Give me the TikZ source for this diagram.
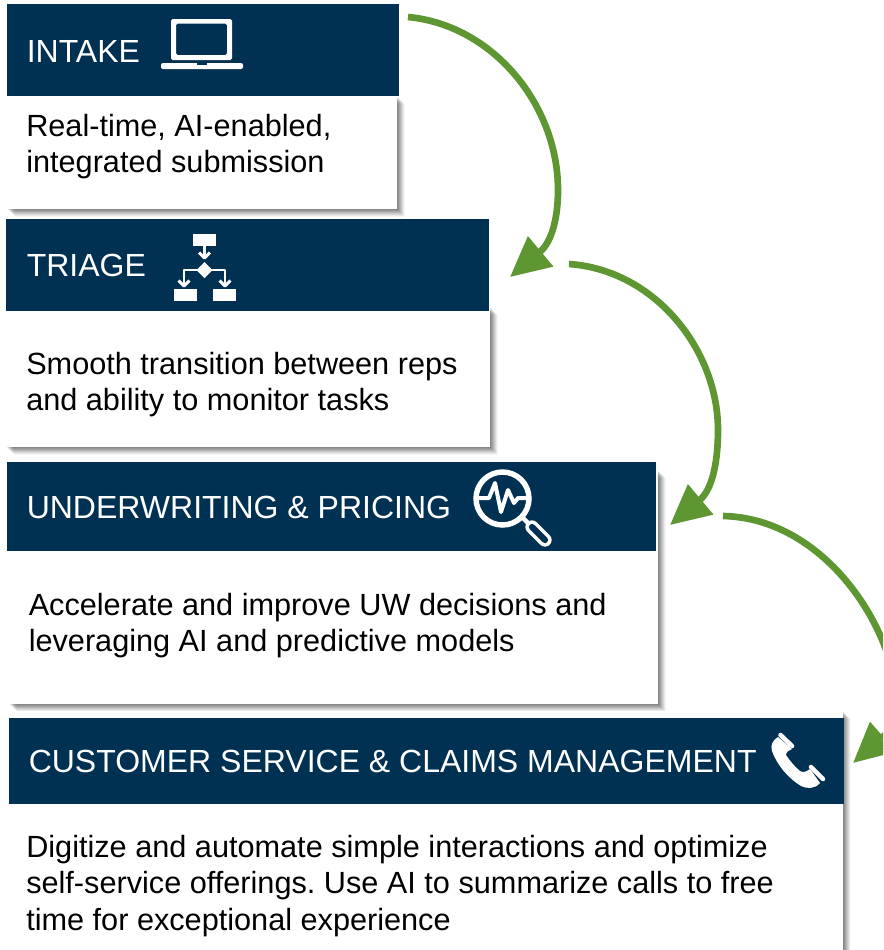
\documentclass[tikz,border=0pt]{standalone}
\usepackage{fontspec}
\setmainfont{Liberation Sans}
\frenchspacing
\usetikzlibrary{arrows.meta}
\definecolor{navy}{RGB}{0,49,83}
\definecolor{leaf}{RGB}{94,151,50}
\tikzset{
  x=0.75pt,y=-0.75pt,
  softshadow/.style={
    preaction={fill=black,fill opacity=.035,transform canvas={shift={(5.6pt,-5.6pt)}}},
    preaction={fill=black,fill opacity=.05,transform canvas={shift={(5pt,-5pt)}}},
    preaction={fill=black,fill opacity=.07,transform canvas={shift={(4.4pt,-4.4pt)}}},
    preaction={fill=black,fill opacity=.08,transform canvas={shift={(3.75pt,-3.75pt)}}},
    preaction={fill=black,fill opacity=.09,transform canvas={shift={(3pt,-3pt)}}},
    preaction={fill=black,fill opacity=.09,transform canvas={shift={(2.25pt,-2.25pt)}}},
    preaction={fill=black,fill opacity=.09,transform canvas={shift={(1.5pt,-1.5pt)}}},
    preaction={fill=black,fill opacity=.09,transform canvas={shift={(.75pt,-.75pt)}}}},
  bodybox/.style={rectangle,draw=none,fill=white,inner sep=0pt,anchor=north west,softshadow},
  headbox/.style={rectangle,draw=none,fill=navy,inner sep=0pt,anchor=north west},
  headtext/.style={anchor=west,inner sep=0pt,text=white,font=\fontsize{24pt}{28pt}\selectfont},
  bodytext/.style={anchor=north west,inner sep=0pt,align=left,text=black,font=\fontsize{23pt}{27.3pt}\selectfont},
  flow/.style={draw=leaf,line width=5pt,-{Triangle[length=30pt,width=28.5pt]},fill=none,color=leaf},
  icon/.style={draw=white,line width=2.2pt,line join=round},
  iconfill/.style={fill=white,draw=none},
}
\begin{document}
\begin{tikzpicture}
\useasboundingbox (0,0) rectangle (883,950);
\clip (0,0) rectangle (883,950);
\fill[white] (0,0) rectangle (883,950);

% bodies
\node[bodybox,minimum width=292.5pt,minimum height=84.75pt] (b1) at (7,96) {};
\node[bodybox,minimum width=363pt,minimum height=105pt] (b2) at (6,307) {};
\node[bodybox,minimum width=486.75pt,minimum height=175.5pt] (b3) at (9,470) {};
\node[bodybox,minimum width=625.5pt,minimum height=195pt] (b4) at (9,711) {};

% headers
\node[headbox,minimum width=294pt,minimum height=69pt] (h1) at (7,4) {};
\node[headbox,minimum width=362.25pt,minimum height=69pt] (h2) at (6,219) {};
\node[headbox,minimum width=486.75pt,minimum height=66.75pt] (h3) at (7,462) {};
\node[headbox,minimum width=626.25pt,minimum height=64.5pt] (h4) at (9,718) {};

% titles
\node[headtext] (t1) at (26.5,51) {INTAKE};
\node[headtext] (t2) at (26.5,265.5) {TRIAGE};
\node[headtext] (t3) at (26.5,507) {UNDERWRITING \& PRICING};
\node[headtext] (t4) at (28.5,761.5) {CUSTOMER SERVICE \& CLAIMS MANAGEMENT};

% body text
\node[bodytext] (p1) at (26,114) {Real-time, AI-enabled,\\integrated submission};
\node[bodytext] (p2) at (26,352) {Smooth transition between reps\\and ability to monitor tasks};
\node[bodytext] (p3) at (28.5,593) {Accelerate and improve UW decisions and\\leveraging AI and predictive models};
\node[bodytext] (p4) at (26,835) {Digitize and automate simple interactions and optimize\\self-service offerings. Use AI to summarize calls to free\\time for exceptional experience};

% laptop icon
\fill[white,even odd rule,rounded corners=1.2pt] (171,19) rectangle (232,60) (176,23.5) rectangle (227,55);
\fill[white,rounded corners=1.5pt] (161,63) rectangle (243,69);
\fill[navy] (197,63) rectangle (207,64.5);

% triage icon
\fill[iconfill] (193,234) rectangle (216,245.5);
\fill[iconfill] (174,289) rectangle (197,301);
\fill[iconfill] (213,289) rectangle (236,301);
\fill[iconfill] (204.5,262) -- (212.5,270) -- (204.5,278) -- (196.5,270) -- cycle;
\draw[icon] (204.5,245) -- (204.5,258);
\draw[icon] (199,252.5) -- (204.5,258) -- (210,252.5);
\draw[icon] (198,270) -- (184,270) -- (184,286);
\draw[icon] (178.5,280.5) -- (184,286) -- (189.5,280.5);
\draw[icon] (211,270) -- (225,270) -- (225,286);
\draw[icon] (219.5,280.5) -- (225,286) -- (230.5,280.5);

% magnifier icon
\draw[draw=white,line width=4.1pt] (502.5,498.5) circle (26.5);
\draw[white,line width=3.2pt] (523,518) -- (530,525);
\draw[white,line width=10pt,line cap=round] (532,527) -- (545,540);
\draw[navy,line width=4.6pt,line cap=round] (532,527) -- (545,540);
\draw[icon,line width=3pt,line cap=round] (477,498) -- (489,498) -- (495,483) -- (501,512) -- (508,490) -- (514,503) -- (518,498) -- (529,498);

% phone icon
\fill[white] (778,737) .. controls (773,740) and (770,745) .. (772,751)
  .. controls (777,765) and (788,778) .. (801,786)
  .. controls (807,789) and (815,789) .. (820,783)
  -- (810,769) .. controls (806,772) and (803,773) .. (800,771)
  .. controls (795,767) and (790,761) .. (786,755)
  .. controls (786,752) and (789,750) .. (792,749) -- cycle;
\draw[white,line width=3.4pt,line cap=round] (780.5,735) -- (792,746);
\draw[white,line width=3.4pt,line cap=round] (811,767) -- (823,779);

% connectors
\coordinate (a1s) at (408,17);
\coordinate (a1m) at (558,190);
\coordinate (a1e) at (510,277);
\coordinate (a2s) at (569,264);
\coordinate (a2m) at (718,430);
\coordinate (a2e) at (670,525);
\coordinate (a3s) at (723,516);
\coordinate (a3m) at (898,712);
\coordinate (a3e) at (853,763);
\draw[flow] (a1s) .. controls (493,25) and (558,105) .. (a1m) .. controls (558,215) and (553,241) .. (a1e);
\draw[flow] (a2s) .. controls (655,270) and (718,350) .. (a2m) .. controls (718,460) and (713,489) .. (a2e);
\draw[flow] (a3s) .. controls (825,518) and (898,630) .. (a3m) .. controls (898,722) and (893,728) .. (a3e);
\end{tikzpicture}
\end{document}
